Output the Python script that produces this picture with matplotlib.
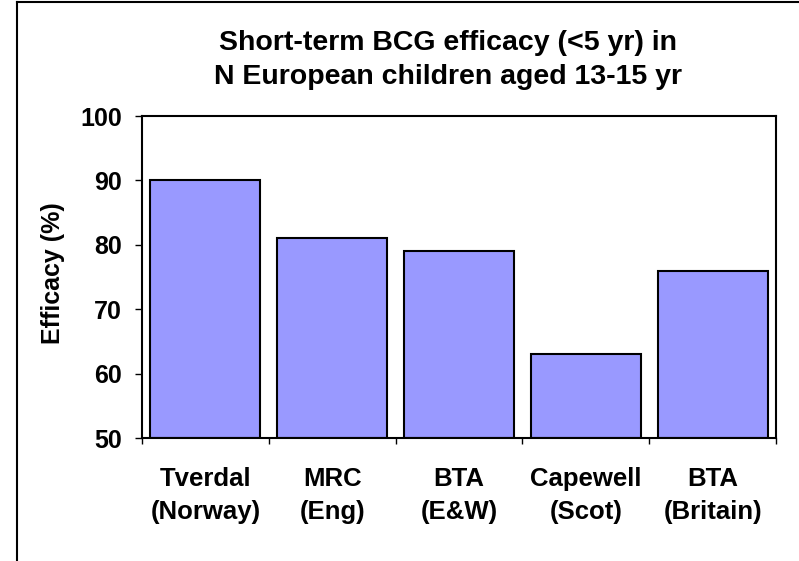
import matplotlib
matplotlib.use("Agg")
import matplotlib.pyplot as plt
from matplotlib.lines import Line2D

# data
studies = ["Tverdal\n(Norway)", "MRC\n(Eng)", "BTA\n(E&W)", "Capewell\n(Scot)", "BTA\n(Britain)"]
efficacy = [90, 81, 79, 63, 76]
y_ticks = [50, 60, 70, 80, 90, 100]

plt.rcParams['font.family'] = ['Liberation Sans', 'DejaVu Sans']
plt.rcParams['font.weight'] = 'bold'

W, H = 799, 561
fig = plt.figure(figsize=(W / 100, H / 100), dpi=100)
ax = fig.add_axes([142 / W, 1 - 438 / H, (776 - 142) / W, (438 - 116) / H])

x = list(range(len(studies)))
ax.bar(x, [v - 50 for v in efficacy], bottom=50, width=0.867,
       color='#9999FF', edgecolor='black', linewidth=1.5, zorder=2)

ax.set_xlim(-0.5, len(studies) - 0.5)
ax.set_ylim(50, 100)
ax.set_yticks(y_ticks)
ax.set_yticklabels([str(t) for t in y_ticks], fontsize=18, fontweight='bold')

# category labels in the middle, tick marks on the boundaries
ax.set_xticks(x)
ax.set_xticklabels(studies, fontsize=18.5, fontweight='bold', linespacing=1.45)
ax.tick_params(axis='x', which='major', length=0, pad=21)
ax.set_xticks([i - 0.5 for i in range(len(studies) + 1)], minor=True)
ax.tick_params(axis='x', which='minor', length=4.5, width=1, direction='out')
ax.tick_params(axis='y', length=5, width=1, direction='out', pad=9.5)

for s in ax.spines.values():
    s.set_linewidth(1.5)

ax.set_ylabel("Efficacy (%)", fontsize=18, fontweight='bold')
ax.yaxis.set_label_coords((65 - 142) / 634, (438 - 273) / 322)

fig.text(448 / W, 1 - 30 / H, "Short-term BCG efficacy (<5 yr) in\nN European children aged 13-15 yr",
         ha='center', va='top', fontsize=20.5, fontweight='bold', linespacing=1.4)

# outer border of the slide (left and top edges only)
fig.add_artist(Line2D([17 / W, 17 / W], [0, 1 - 2 / H], transform=fig.transFigure,
                      color='black', linewidth=1.5))
fig.add_artist(Line2D([17 / W, 1], [1 - 2 / H, 1 - 2 / H], transform=fig.transFigure,
                      color='black', linewidth=1.5))

fig.savefig("out.png", dpi=100)
